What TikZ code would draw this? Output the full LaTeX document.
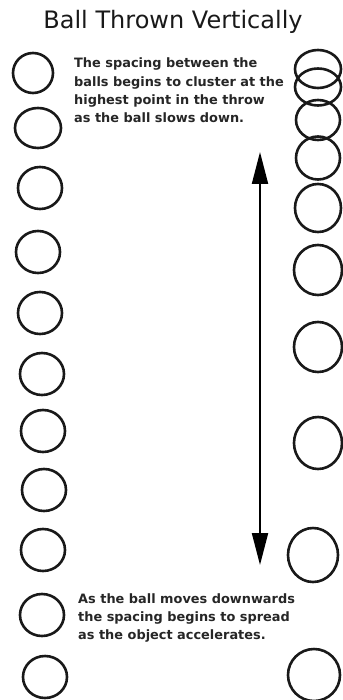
\documentclass[tikz,border=0pt]{standalone}
\usepackage{fontspec}
\setmainfont{DejaVu Sans}
\usetikzlibrary{arrows.meta,shapes.geometric}

\begin{document}
\begin{tikzpicture}[x=1pt, y=-1pt,
    ball/.style={ellipse, draw, line width=2.6pt, draw=black!90, inner sep=0pt, minimum width=44pt, minimum height=42pt},
    note/.style={font=\fontsize{12.9}{18.3}\selectfont\bfseries, text=black!85, align=left, inner sep=0pt, anchor=north west},
    arr/.style={{Triangle[length=32pt, width=16pt]}-{Triangle[length=32pt, width=16pt]}, line width=2pt},
]
\useasboundingbox (0,0) rectangle (342,700);

% Title
\node[font=\fontsize{24}{28}\selectfont, text=black!90] (title) at (173,22) {Ball Thrown Vertically};

% Left column: ball thrown at even spacing
\node[ball, minimum width=40pt, minimum height=40pt] (l1) at (33,73) {};
\node[ball, minimum width=46pt, minimum height=40pt] (l2) at (38,128) {};
\node[ball] (l3) at (40,188) {};
\node[ball] (l4) at (38,252) {};
\node[ball] (l5) at (40,313) {};
\node[ball] (l6) at (42,374) {};
\node[ball] (l7) at (43,431) {};
\node[ball] (l8) at (44,490) {};
\node[ball] (l9) at (43,550) {};
\node[ball] (l10) at (42,615) {};
\node[ball] (l11) at (45,677) {};

% Right column: clustered at the top, spread at the bottom
\node[ball, minimum width=46pt, minimum height=38pt] (r1) at (318,69) {};
\node[ball, minimum width=46pt, minimum height=37pt] (r2) at (318,87) {};
\node[ball, minimum width=44pt, minimum height=40pt] (r3) at (318,120) {};
\node[ball, minimum width=44pt, minimum height=43pt] (r4) at (318,158) {};
\node[ball, minimum width=46pt, minimum height=48pt] (r5) at (318,208) {};
\node[ball, minimum width=48pt, minimum height=50pt] (r6) at (318,270) {};
\node[ball, minimum width=48pt, minimum height=50pt] (r7) at (318,347) {};
\node[ball, minimum width=48pt, minimum height=52pt] (r8) at (318,443) {};
\node[ball, minimum width=50pt, minimum height=54pt] (r9) at (313,555) {};
\node[ball, minimum width=52pt, minimum height=52pt] (r10) at (314,675) {};

% Notes
\node[note] (top) at (74,58) {The spacing between the\\balls begins to cluster at the\\highest point in the throw\\as the ball slows down.};
\node[note] (bottom) at (78,593) {As the ball moves downwards\\the spacing begins to spread\\as the object accelerates.};

% Arrow
\coordinate (up) at (260,152);
\coordinate (down) at (260,565);
\draw[arr] (down) -- (up);
\end{tikzpicture}
\end{document}
